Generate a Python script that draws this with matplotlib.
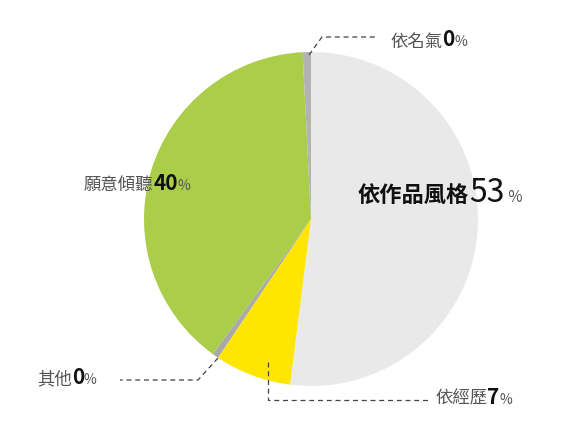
import matplotlib
matplotlib.use("Agg")
import matplotlib.pyplot as plt
from matplotlib.offsetbox import TextArea, HPacker, AnnotationBbox

labels = ["依作品風格", "依經歷", "其他", "願意傾聽", "依名氣"]
values = [52.0, 7.4, 0.6, 39.2, 0.8]
shown = ["53", "7", "0", "40", "0"]
colors = ["#e8e9e8", "#ffe600", "#a9a9a9", "#aacd4a", "#b3b3b3"]

CJK = ["Noto Sans CJK TC", "DejaVu Sans"]
H = 430
fig = plt.figure(figsize=(5.68, 4.30), dpi=100)
ax = fig.add_axes([0, 0, 1, 1])
ax.pie(values, colors=colors, startangle=90, counterclock=False,
       center=(311, H - 219), radius=167, wedgeprops=dict(linewidth=0))
ax.set_xlim(0, 568); ax.set_ylim(0, H); ax.set_aspect("equal"); ax.axis("off")

def label(x, y, name, num, big=False):
    if big:
        parts = [TextArea(name, textprops=dict(family=CJK, size=16, color="#111111", weight="bold")),
                 TextArea(num, textprops=dict(family=CJK, size=23, color="#111111")),
                 TextArea(" %", textprops=dict(family=CJK, size=11, color="#555555"))]
    else:
        parts = [TextArea(name, textprops=dict(family=CJK, size=12.5, color="#555555")),
                 TextArea(num, textprops=dict(family=CJK, size=15, color="#111111", weight="bold")),
                 TextArea("%", textprops=dict(family=CJK, size=10, color="#555555"))]
    box = HPacker(children=parts, align="baseline", pad=0, sep=0)
    ab = AnnotationBbox(box, (x, H - y), xycoords="data", box_alignment=(0, 0.5), frameon=False)
    ax.add_artist(ab)

label(390, 40, labels[4], shown[4])
label(358, 193, labels[0], shown[0], big=True)
label(84, 183, labels[3], shown[3])
label(37, 378, labels[2], shown[2])
label(435, 397, labels[1], shown[1])

ls = dict(color="#444444", lw=0.9, ls=(0, (4, 3)))
def line(pts):
    ax.plot([p[0] for p in pts], [H - p[1] for p in pts], **ls)

line([(309, 55), (322, 37), (378, 37)])
line([(218, 358), (198, 380), (120, 380)])
line([(268, 362), (268, 400), (430, 400)])

fig.savefig("out.png", dpi=100, facecolor="white")
